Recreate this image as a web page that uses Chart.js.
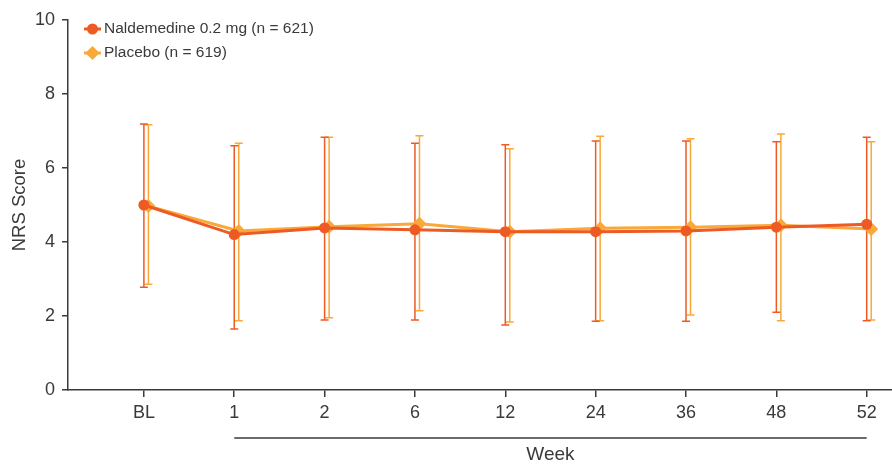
<!DOCTYPE html>
<html>
<head>
<meta charset="utf-8">
<script src="https://cdn.jsdelivr.net/npm/chart.js@4"></script>
<style>
  html, body { margin: 0; padding: 0; background: #fff; }
  #wrap { width: 892px; height: 464px; }
</style>
</head>
<body>
<div id="wrap"><canvas id="nrsChart" width="892" height="464"></canvas></div>
<script>
// 주차 라벨
const weeks = ['BL', '1', '2', '6', '12', '24', '36', '48', '52'];

// Naldemedine 0.2 mg (평균, 상단, 하단)
const naldMean = [5.0, 4.2, 4.38, 4.33, 4.28, 4.28, 4.3, 4.4, 4.48];
const naldHi = [7.19, 6.6, 6.83, 6.67, 6.63, 6.73, 6.73, 6.71, 6.83];
const naldLo = [2.78, 1.65, 1.89, 1.89, 1.76, 1.86, 1.86, 2.1, 1.87];

// Placebo
const placMean = [4.97, 4.3, 4.41, 4.49, 4.28, 4.37, 4.4, 4.45, 4.35];
const placHi = [7.17, 6.67, 6.83, 6.87, 6.52, 6.86, 6.79, 6.92, 6.71];
const placLo = [2.86, 1.87, 1.95, 2.14, 1.84, 1.87, 2.03, 1.87, 1.89];

const yTicks = [0, 2, 4, 6, 8, 10];

const RED = '#EE5A24';
const ORANGE = '#F8A93A';
const INK = '#3a3a3a';
const FONT = "'Liberation Sans', Arial, sans-serif";

const placeboShift = 0.05;

function toPoints(values, shift) {
    return values.map((v, i) => ({ x: i + shift, y: v }));
}

// 오차 막대 그리기
const errorBars = {
    id: 'errorBars',
    beforeDatasetsDraw(chart) {
        const ctx = chart.ctx;
        const xs = chart.scales.x;
        const ys = chart.scales.y;
        const sets = [
            { lo: placLo, hi: placHi, color: ORANGE, shift: placeboShift },
            { lo: naldLo, hi: naldHi, color: RED, shift: 0 }
        ];
        ctx.save();
        ctx.lineWidth = 1.5;
        sets.forEach(s => {
            ctx.strokeStyle = s.color;
            s.lo.forEach((lo, i) => {
                const x = xs.getPixelForValue(i + s.shift);
                const yTop = ys.getPixelForValue(s.hi[i]);
                const yBot = ys.getPixelForValue(lo);
                ctx.beginPath();
                ctx.moveTo(x, yTop);
                ctx.lineTo(x, yBot);
                ctx.moveTo(x - 4, yTop);
                ctx.lineTo(x + 4, yTop);
                ctx.moveTo(x - 4, yBot);
                ctx.lineTo(x + 4, yBot);
                ctx.stroke();
            });
        });
        ctx.restore();
    }
};

// 범례 및 Week 구간 표시
const extras = {
    id: 'extras',
    afterDraw(chart) {
        const ctx = chart.ctx;
        const xs = chart.scales.x;
        ctx.save();

        // Week 선
        const x1 = xs.getPixelForValue(1);
        const x2 = xs.getPixelForValue(weeks.length - 1);
        ctx.strokeStyle = INK;
        ctx.lineWidth = 1.5;
        ctx.beginPath();
        ctx.moveTo(x1, 438);
        ctx.lineTo(x2, 438);
        ctx.stroke();
        ctx.fillStyle = INK;
        ctx.font = '19px ' + FONT;
        ctx.textAlign = 'center';
        ctx.textBaseline = 'middle';
        ctx.fillText('Week', (x1 + x2) / 2, 455);

        // 범례
        const items = [
            { label: chart.data.datasets[0].label, color: RED, style: 'circle', y: 29 },
            { label: chart.data.datasets[1].label, color: ORANGE, style: 'diamond', y: 53 }
        ];
        ctx.textAlign = 'left';
        ctx.font = '15.5px ' + FONT;
        items.forEach(it => {
            ctx.strokeStyle = it.color;
            ctx.fillStyle = it.color;
            ctx.lineWidth = 3;
            ctx.beginPath();
            ctx.moveTo(84, it.y);
            ctx.lineTo(101, it.y);
            ctx.stroke();
            ctx.beginPath();
            if (it.style === 'circle') {
                ctx.arc(92.5, it.y, 5.5, 0, Math.PI * 2);
            } else {
                ctx.moveTo(92.5, it.y - 7);
                ctx.lineTo(99.5, it.y);
                ctx.lineTo(92.5, it.y + 7);
                ctx.lineTo(85.5, it.y);
                ctx.closePath();
            }
            ctx.fill();
            ctx.fillStyle = INK;
            ctx.fillText(it.label, 104, it.y);
        });
        ctx.restore();
    }
};

const ctx = document.getElementById('nrsChart').getContext('2d');
new Chart(ctx, {
    type: 'line',
    data: {
        datasets: [
            {
                label: 'Naldemedine 0.2 mg (n = 621)',
                data: toPoints(naldMean, 0),
                borderColor: RED,
                backgroundColor: RED,
                borderWidth: 3,
                pointStyle: 'circle',
                pointRadius: 5.5,
                pointBorderWidth: 0,
                clip: false
            },
            {
                label: 'Placebo (n = 619)',
                data: toPoints(placMean, placeboShift),
                borderColor: ORANGE,
                backgroundColor: ORANGE,
                borderWidth: 3,
                pointStyle: 'rectRot',
                pointRadius: 7,
                pointBorderWidth: 0,
                clip: false
            }
        ]
    },
    options: {
        responsive: false,
        animation: false,
        layout: { autoPadding: false, padding: { top: 20, right: 0, bottom: 0, left: 0 } },
        plugins: {
            legend: { display: false },
            tooltip: { enabled: false }
        },
        scales: {
            x: {
                type: 'linear',
                min: -0.84,
                max: 8.28,
                afterBuildTicks: scale => {
                    scale.ticks = weeks.map((w, i) => ({ value: i }));
                },
                afterFit: scale => {
                    scale.height = 74;
                    scale.paddingLeft = 0;
                    scale.paddingRight = 0;
                },
                ticks: {
                    callback: v => weeks[v],
                    color: INK,
                    font: { family: FONT, size: 18 },
                    padding: 5,
                    maxRotation: 0
                },
                grid: {
                    drawOnChartArea: false,
                    drawTicks: true,
                    tickLength: 7,
                    color: INK,
                    lineWidth: 1.5
                },
                border: { display: true, color: INK, width: 1.5 }
            },
            y: {
                min: 0,
                max: 10,
                afterBuildTicks: scale => {
                    scale.ticks = yTicks.map(v => ({ value: v }));
                },
                afterFit: scale => { scale.width = 68; },
                ticks: {
                    color: INK,
                    font: { family: FONT, size: 18 },
                    padding: 7
                },
                grid: {
                    drawOnChartArea: false,
                    drawTicks: true,
                    tickLength: 6,
                    color: INK,
                    lineWidth: 1.5
                },
                border: { display: true, color: INK, width: 1.5 },
                title: {
                    display: true,
                    text: 'NRS Score',
                    color: INK,
                    font: { family: FONT, size: 18.5 },
                    padding: { top: 9, bottom: 0 }
                }
            }
        }
    },
    plugins: [errorBars, extras]
});
</script>
</body>
</html>
